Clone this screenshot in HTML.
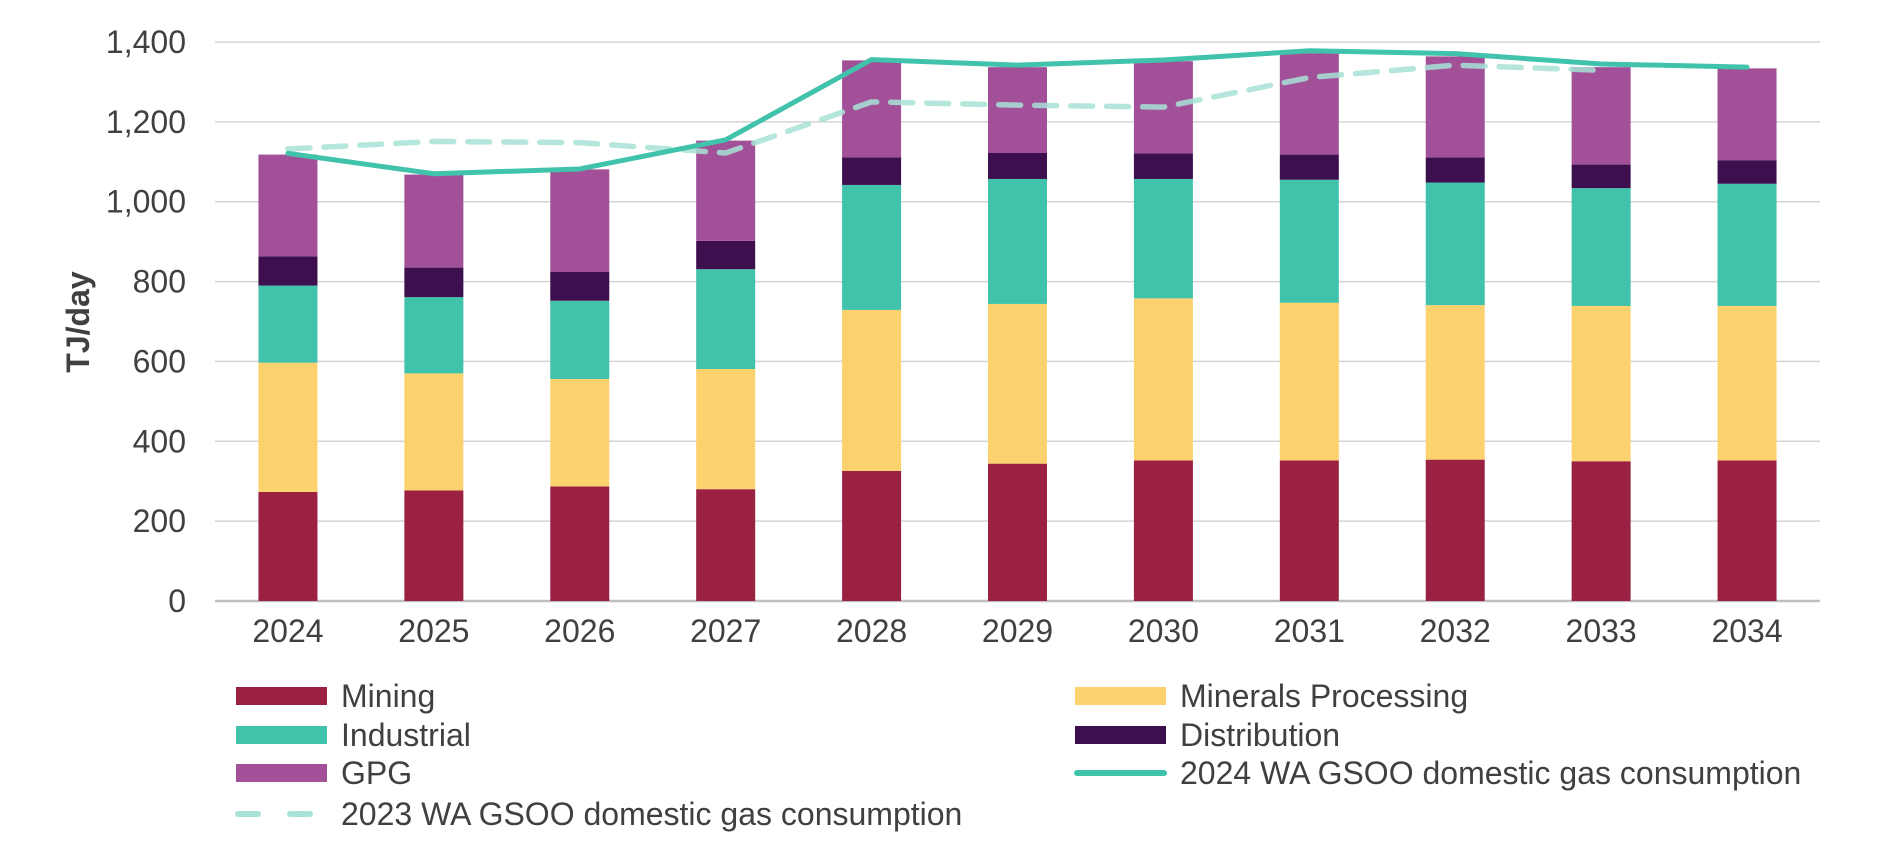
<!DOCTYPE html>
<html><head><meta charset="utf-8"><style>
html,body{margin:0;padding:0;background:#fff;}
svg{display:block;font-family:"Liberation Sans",Arial,sans-serif;}
</style></head><body>
<svg id="chart" width="1888" height="864" viewBox="0 0 1888 864">
<g id="grid"></g>
<g id="bars"></g>
<g id="lines"></g>
<g id="axes"></g>
<text transform="translate(89,322) rotate(-90)" text-anchor="middle" font-size="32" font-weight="bold" fill="#404040">TJ/day</text>
<g id="legend"></g>
</svg>
<script>
const categories = ["2024","2025","2026","2027","2028","2029","2030","2031","2032","2033","2034"];
const mining = [273,277,287,280,326,344,352,352,354,350,352];
const mineralsProcessing = [324,293,269,301,403,400,406,395,387,389,387];
const industrial = [193,191,196,250,313,313,299,308,307,295,306];
const distribution = [73,74,72,71,69,65,64,63,63,59,59];
const gpg = [255,233,257,251,243,215,231,254,253,244,230];
const gsoo2024 = [1121,1070,1082,1155,1356,1342,1355,1378,1371,1345,1337];
const gsoo2023 = [1132,1151,1148,1122,1250,1242,1237,1311,1342,1329];
const yTicks = [0,200,400,600,800,1000,1200,1400];

const NS = "http://www.w3.org/2000/svg";
const X0 = 215, X1 = 1820, Y0 = 601, Y1 = 42, YMAX = 1400;
const band = (X1 - X0) / categories.length;
const barW = 59;
function yScale(v){ return Y0 - (v / YMAX) * (Y0 - Y1); }
function xCenter(i){ return X0 + band * (i + 0.5); }
function mk(tag, attrs, parent){
  const e = document.createElementNS(NS, tag);
  for (const k in attrs) e.setAttribute(k, attrs[k]);
  parent.appendChild(e);
  return e;
}
const grid = document.getElementById('grid');
const axes = document.getElementById('axes');
yTicks.forEach(t => {
  const y = yScale(t);
  const gl = mk('line', {x1:X0, x2:X1, y1:y, y2:y, stroke: t===0 ? '#bfbfbf' : '#d4d4d4', 'stroke-width': t===0 ? 2.5 : 1.5}, grid);
  
  
  const lb = mk('text', {x:186, y:y+11, 'text-anchor':'end', 'font-size':32, fill:'#404040'}, axes);
  lb.textContent = t.toLocaleString('en-US');
  
  
});
categories.forEach((c, i) => {
  const lb = mk('text', {x:xCenter(i), y:642, 'text-anchor':'middle', 'font-size':32, fill:'#404040'}, axes);
  lb.textContent = c;
  
  
});
const series = [
  {name:'mining', vals:mining, color:'#9b2142'},
  {name:'minerals-processing', vals:mineralsProcessing, color:'#fcd26e'},
  {name:'industrial', vals:industrial, color:'#41c2ab'},
  {name:'distribution', vals:distribution, color:'#3d0f4e'},
  {name:'gpg', vals:gpg, color:'#a25198'}
];
const bars = document.getElementById('bars');
categories.forEach((c, i) => {
  let cum = 0;
  series.forEach(s => {
    const v = s.vals[i];
    const yTop = yScale(cum + v), yBot = yScale(cum);
    const r = mk('rect', {x:xCenter(i)-barW/2, y:yTop, width:barW, height:yBot-yTop, fill:s.color}, bars);
    
    
    cum += v;
  });
});
const lines = document.getElementById('lines');
const p23 = mk('polyline', {points: gsoo2023.map((v,i)=>xCenter(i)+','+yScale(v)).join(' '), fill:'none', stroke:'#a8e2d6', 'stroke-opacity':0.85, 'stroke-width':5.5, 'stroke-dasharray':'22 14', 'stroke-linecap':'round'}, lines);


const p24 = mk('polyline', {points: gsoo2024.map((v,i)=>xCenter(i)+','+yScale(v)).join(' '), fill:'none', stroke:'#41c2ab', 'stroke-width':5, 'stroke-linecap':'round', 'stroke-linejoin':'round'}, lines);



const legend = document.getElementById('legend');
const items = [
  {label:'Mining', type:'box', color:'#9b2142', x:236, y:696},
  {label:'Minerals Processing', type:'box', color:'#fcd26e', x:1075, y:696},
  {label:'Industrial', type:'box', color:'#41c2ab', x:236, y:735},
  {label:'Distribution', type:'box', color:'#3d0f4e', x:1075, y:735},
  {label:'GPG', type:'box', color:'#a25198', x:236, y:773},
  {label:'2024 WA GSOO domestic gas consumption', type:'solid', color:'#41c2ab', x:1075, y:773},
  {label:'2023 WA GSOO domestic gas consumption', type:'dash', color:'#a8e2d6', x:236, y:814}
];
items.forEach(it => {
  const g = mk('g', {}, legend);
  
  
  if (it.type === 'box') mk('rect', {x:it.x, y:it.y-9, width:91, height:18, fill:it.color}, g);
  else if (it.type === 'solid') mk('line', {x1:it.x+2, x2:it.x+89, y1:it.y, y2:it.y, stroke:it.color, 'stroke-width':6, 'stroke-linecap':'round'}, g);
  else mk('line', {x1:it.x+2, x2:it.x+89, y1:it.y, y2:it.y, stroke:it.color, 'stroke-width':6, 'stroke-dasharray':'20 32', 'stroke-linecap':'round'}, g);
  const t = mk('text', {x:it.x+105, y:it.y+11, 'font-size':32, fill:'#404040'}, g);
  t.textContent = it.label;
});
</script>
</body></html>
